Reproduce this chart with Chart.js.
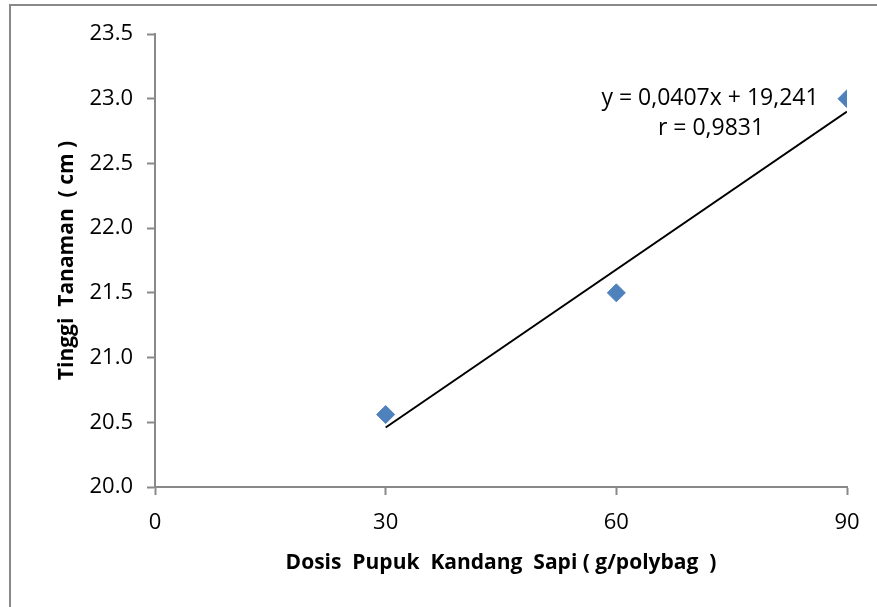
<!DOCTYPE html>
<html>
<head>
<meta charset="utf-8">
<script src="https://cdn.jsdelivr.net/npm/chart.js@4.4.0/dist/chart.umd.min.js"></script>
<style>
    html, body { margin: 0; padding: 0; background: #fff; }
    #wrap { position: relative; width: 877px; height: 607px; }
    #frame { position: absolute; left: 9px; top: 4px; right: 0; bottom: 0; border-left: 2px solid #898989; border-top: 2px solid #898989; }
</style>
</head>
<body>
<div id="wrap">
    <div id="frame"></div>
    <canvas id="dosis-chart" width="877" height="607"></canvas>
</div>
<script>
// data
const dosis = [30, 60, 90];
const tinggi = [20.56, 21.5, 23.0];
const trendX = [30, 90];
const trendY = [20.46, 22.90];
const xTicks = [0, 30, 60, 90];
const yTicks = [20.0, 20.5, 21.0, 21.5, 22.0, 22.5, 23.0, 23.5];
const equationText = ['y = 0,0407x + 19,241', 'r = 0,9831'];

const fontFamily = "'Open Sans', 'Noto Sans', sans-serif";
const axisGray = '#898989';

// write the regression equation in the upper right
const equationLabel = {
    id: 'equationLabel',
    afterDraw(chart) {
        const c = chart.ctx;
        const area = chart.chartArea;
        c.save();
        c.fillStyle = '#000';
        c.font = '23px ' + fontFamily;
        c.textAlign = 'center';
        c.textBaseline = 'middle';
        c.fillText(equationText[0], area.right - 137, area.top + 64);
        c.fillText(equationText[1], area.right - 136, area.top + 94);
        c.restore();
    }
};

new Chart(document.getElementById('dosis-chart'), {
    type: 'scatter',
    data: {
        datasets: [{
            type: 'line',
            label: 'Trend',
            data: trendX.map((x, i) => ({ x: x, y: trendY[i] })),
            borderColor: '#000',
            borderWidth: 2,
            pointRadius: 0,
            fill: false,
            order: 1
        }, {
            label: 'Tinggi Tanaman',
            data: dosis.map((x, i) => ({ x: x, y: tinggi[i] })),
            backgroundColor: '#4F81BD',
            borderColor: '#4F81BD',
            pointStyle: 'rectRot',
            pointRadius: 9,
            pointHoverRadius: 9,
            order: 2
        }]
    },
    options: {
        responsive: false,
        animation: false,
        layout: { padding: { top: 34, right: 30, left: 0, bottom: 0 } },
        plugins: {
            legend: { display: false },
            tooltip: { enabled: false }
        },
        scales: {
            x: {
                type: 'linear',
                min: 0,
                max: 90,
                afterBuildTicks: (axis) => { axis.ticks = xTicks.map(v => ({ value: v })); },
                afterFit: (axis) => { axis.height = 120; },
                ticks: {
                    color: '#000',
                    padding: 15,
                    font: { family: fontFamily, size: 22 }
                },
                grid: {
                    drawOnChartArea: false,
                    tickLength: 8,
                    tickColor: axisGray,
                    tickWidth: 2
                },
                border: { color: axisGray, width: 2 },
                title: {
                    display: true,
                    text: 'Dosis  Pupuk  Kandang  Sapi ( g/polybag  )',
                    color: '#000',
                    padding: { top: 0, bottom: 31 },
                    font: { family: fontFamily, size: 21, weight: 'bold' }
                }
            },
            y: {
                min: 20,
                max: 23.5,
                afterBuildTicks: (axis) => { axis.ticks = yTicks.map(v => ({ value: v })); },
                afterFit: (axis) => { axis.width = 155; },
                ticks: {
                    color: '#000',
                    padding: 14,
                    callback: (v) => v.toFixed(1),
                    font: { family: fontFamily, size: 22 }
                },
                grid: {
                    drawOnChartArea: false,
                    tickLength: 8,
                    tickColor: axisGray,
                    tickWidth: 2
                },
                border: { color: axisGray, width: 2 },
                title: {
                    display: true,
                    text: 'Tinggi  Tanaman  ( cm )',
                    color: '#000',
                    padding: { top: 54, bottom: 0 },
                    font: { family: fontFamily, size: 21, weight: 'bold' }
                }
            }
        }
    },
    plugins: [equationLabel]
});
</script>
</body>
</html>
